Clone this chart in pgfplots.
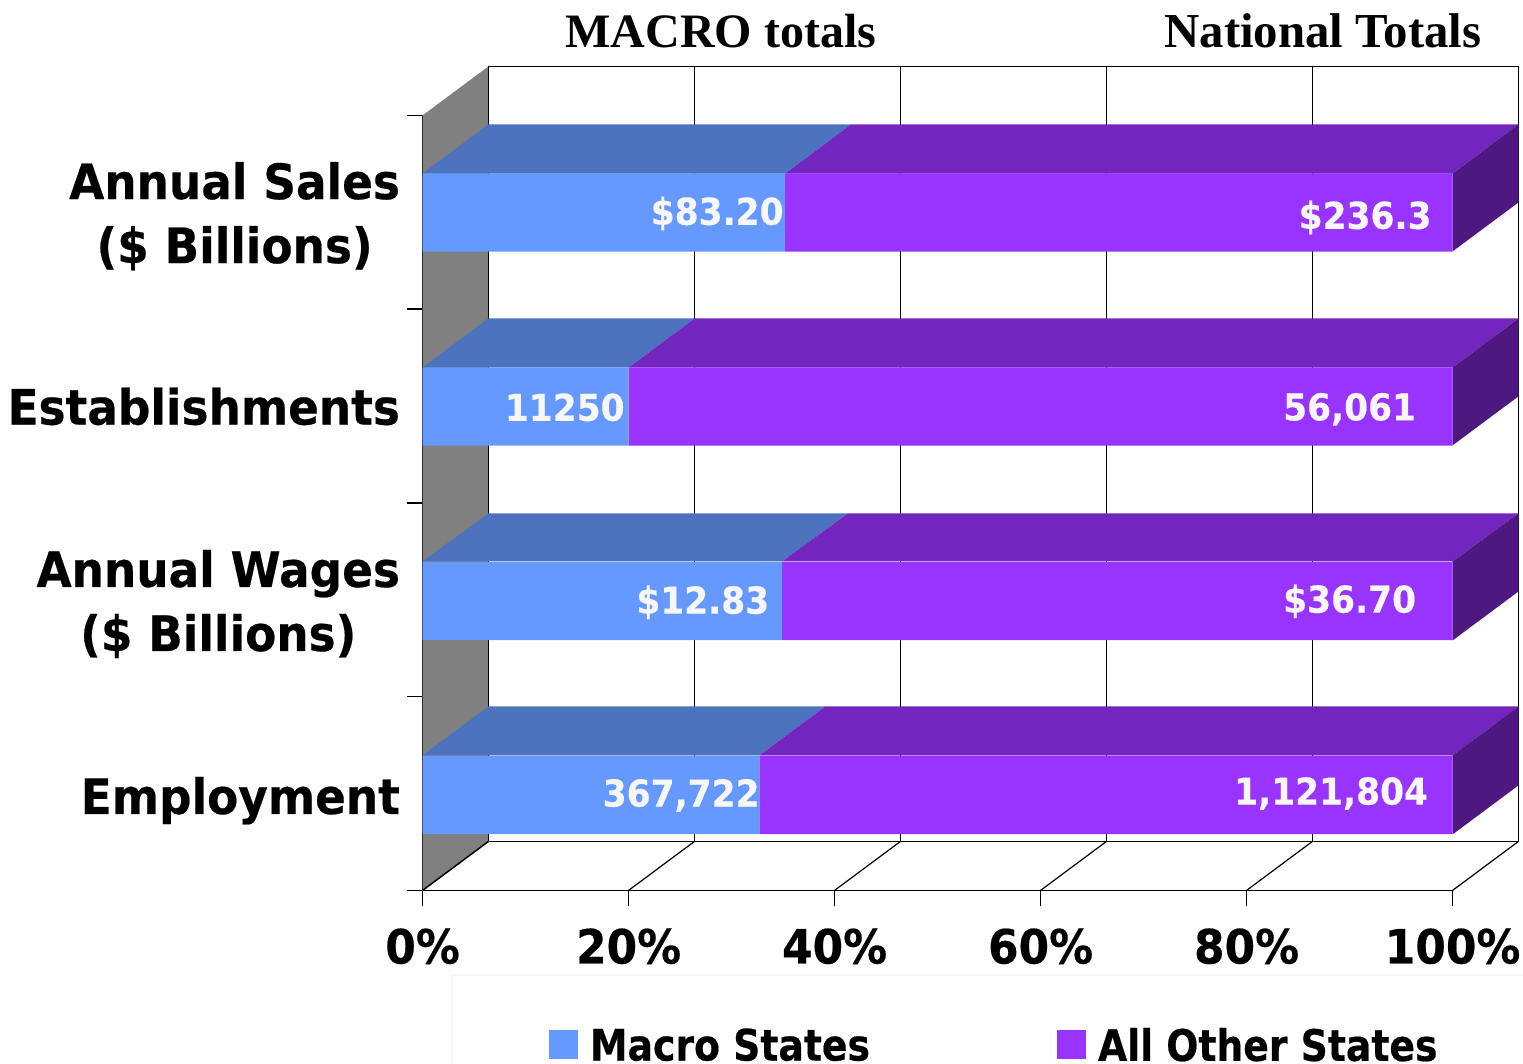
\documentclass[border=0pt]{standalone}
\usepackage{pgfplots}
\pgfplotsset{compat=1.18}
\usepackage{fontspec}
\setmainfont{DejaVu Sans}
\newfontfamily\lab[FakeStretch=0.93,FakeBold=0.4]{DejaVu Sans Bold}
\newfontfamily\leg[FakeStretch=0.87,FakeBold=0.4]{DejaVu Sans Bold}
\newfontfamily\ttl{Liberation Serif Bold}
\definecolor{mac}{HTML}{6699FF}
\definecolor{mact}{HTML}{4D73BF}
\definecolor{oth}{HTML}{9933FF}
\definecolor{otht}{HTML}{7326BF}
\definecolor{oths}{HTML}{4D1980}
\definecolor{wall}{HTML}{808080}
\pgfplotsset{base/.style={
  at={(211.3pt,86.8pt)}, anchor=south west, scale only axis,
  width=515pt, height=387.5pt, xmin=0, xmax=100, ymin=0, ymax=4, clip=false}}
\begin{document}
\begin{tikzpicture}
\path[use as bounding box] (0,0) rectangle (761.5pt,532pt);
\draw[color=black!4, line width=0.6pt] (226pt,0pt) -- (226pt,44.5pt) -- (761.5pt,44.5pt);
\begin{axis}[base,
  axis lines=left, axis line style={-, line width=0.75pt},
  tick align=outside, major tick length=8pt, minor tick length=8pt,
  tick style={black, line width=0.75pt},
  xtick={0,20,40,60,80,100},
  xticklabels={0\%,20\%,40\%,60\%,80\%,100\%},
  xticklabel style={font=\lab\fontsize{23.6}{28}\selectfont, yshift=-7.5pt},
  ytick={0.463,1.478,2.498,3.48},
  minor ytick={0,1,2,3,4},
  major y tick style={draw=none},
  yticklabels={Employment,{Annual Wages\\(\$ Billions)},Establishments,{Annual Sales\\(\$ Billions)}},
  yticklabel style={font=\lab\fontsize{24.4}{32}\selectfont, align=center, xshift=0.2pt},
]
% left wall
\addplot[fill=wall, draw=none] coordinates {(0,0)(6.4,0.253)(6.4,4.253)(0,4)} -- cycle;
% back wall frame and grid
\addplot[black, line width=0.75pt] coordinates {(6.4,0.253)(106.4,0.253)};
\addplot[black, line width=0.75pt] coordinates {(6.4,4.253)(106.4,4.253)};
\addplot[black, line width=0.75pt] coordinates {(6.4,0.253)(6.4,4.253)};
\addplot[black, line width=0.75pt] coordinates {(26.4,0.253)(26.4,4.253)};
\addplot[black, line width=0.75pt] coordinates {(46.4,0.253)(46.4,4.253)};
\addplot[black, line width=0.75pt] coordinates {(66.4,0.253)(66.4,4.253)};
\addplot[black, line width=0.75pt] coordinates {(86.4,0.253)(86.4,4.253)};
\addplot[black, line width=0.75pt] coordinates {(106.4,0.253)(106.4,4.253)};
% floor lines
\addplot[black, line width=0.75pt] coordinates {(0,0)(6.4,0.253)};
\addplot[black, line width=0.6pt] coordinates {(20,0)(26.4,0.253)};
\addplot[black, line width=0.6pt] coordinates {(40,0)(46.4,0.253)};
\addplot[black, line width=0.6pt] coordinates {(60,0)(66.4,0.253)};
\addplot[black, line width=0.6pt] coordinates {(80,0)(86.4,0.253)};
\addplot[black, line width=0.6pt] coordinates {(100,0)(106.4,0.253)};
% top faces: macro
\addplot[fill=mact, draw=none] coordinates {(0,3.700)(6.4,3.954)(41.6,3.954)(35.2,3.700)} -- cycle;
\addplot[fill=mact, draw=none] coordinates {(0,2.699)(6.4,2.952)(26.4,2.952)(20.0,2.699)} -- cycle;
\addplot[fill=mact, draw=none] coordinates {(0,1.698)(6.4,1.946)(41.3,1.946)(34.9,1.698)} -- cycle;
\addplot[fill=mact, draw=none] coordinates {(0,0.697)(6.4,0.950)(39.1,0.950)(32.7,0.697)} -- cycle;
% top faces: others
\addplot[fill=otht, draw=none] coordinates {(35.2,3.700)(41.6,3.954)(106.4,3.954)(100,3.700)} -- cycle;
\addplot[fill=otht, draw=none] coordinates {(20.0,2.699)(26.4,2.952)(106.4,2.952)(100,2.699)} -- cycle;
\addplot[fill=otht, draw=none] coordinates {(34.9,1.698)(41.3,1.946)(106.4,1.946)(100,1.698)} -- cycle;
\addplot[fill=otht, draw=none] coordinates {(32.7,0.697)(39.1,0.950)(106.4,0.950)(100,0.697)} -- cycle;
% right side faces
\addplot[fill=oths, draw=none] coordinates {(100,3.298)(100,3.700)(106.4,3.954)(106.4,3.551)} -- cycle;
\addplot[fill=oths, draw=none] coordinates {(100,2.297)(100,2.699)(106.4,2.952)(106.4,2.550)} -- cycle;
\addplot[fill=oths, draw=none] coordinates {(100,1.290)(100,1.698)(106.4,1.946)(106.4,1.543)} -- cycle;
\addplot[fill=oths, draw=none] coordinates {(100,0.289)(100,0.697)(106.4,0.950)(106.4,0.542)} -- cycle;
\end{axis}
\begin{axis}[base, hide axis, xbar stacked, bar width=0.404, bar shift=0pt, ytick=\empty,
  legend columns=2, legend cell align=left,
  legend style={at={(axis cs:55.6,-0.795)}, anchor=center, draw=none, fill=none,
    font=\leg\fontsize{21.7}{24}\selectfont, inner sep=0pt,
    nodes={text depth=0pt},
    /tikz/every even column/.append style={column sep=91.5pt}},
  legend image code/.code={\fill[#1] (0pt,-7.5pt) rectangle (14.5pt,7pt); \path (18.5pt,0pt);},
]
\addplot[fill=mac, draw=none] coordinates {(32.7,0.493)(34.9,1.494)(20.0,2.498)(35.2,3.499)};
\addplot[fill=oth, draw=none] coordinates {(67.3,0.493)(65.1,1.494)(80.0,2.498)(64.8,3.499)};
\legend{Macro States,All Other States}
\end{axis}
\begin{axis}[base, hide axis, ytick=\empty]
\node[font=\lab\fontsize{18.5}{22}\selectfont, text=black!3] at (axis cs:28.6,3.494) {\$83.20};
\node[font=\lab\fontsize{18.5}{22}\selectfont, text=black!3] at (axis cs:91.5,3.473) {\$236.3};
\node[font=\lab\fontsize{18.5}{22}\selectfont, text=black!3] at (axis cs:13.8,2.493) {11250};
\node[font=\lab\fontsize{18.5}{22}\selectfont, text=black!3] at (axis cs:90.0,2.483) {56,061};
\node[font=\lab\fontsize{18.5}{22}\selectfont, text=black!3] at (axis cs:27.2,1.487) {\$12.83};
\node[font=\lab\fontsize{18.5}{22}\selectfont, text=black!3] at (axis cs:90.0,1.492) {\$36.70};
\node[font=\lab\fontsize{18.5}{22}\selectfont, text=black!3] at (axis cs:25.1,0.490) {367,722};
\node[font=\lab\fontsize{18.5}{22}\selectfont, text=black!3] at (axis cs:88.2,0.500) {1,121,804};
\node[font=\ttl\fontsize{24}{28}\selectfont] at (axis cs:28.95,4.436) {MACRO totals};
\node[font=\ttl\fontsize{24.4}{28}\selectfont] at (axis cs:87.4,4.436) {National Totals};
\end{axis}
\end{tikzpicture}
\end{document}
